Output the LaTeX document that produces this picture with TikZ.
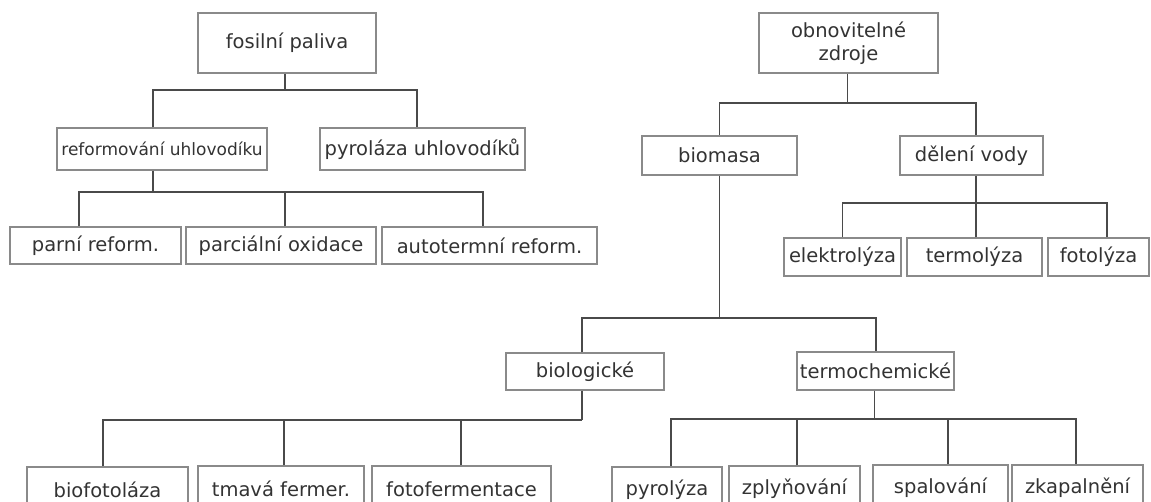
\documentclass[tikz,border=0pt]{standalone}
\usepackage{fontspec}
\setmainfont{DejaVu Sans}
\definecolor{txt}{HTML}{333333}
\definecolor{boxc}{HTML}{8A8A8A}
\definecolor{linec}{HTML}{4A4A4A}
\tikzset{
  nbox/.style={draw=boxc, line width=1.3pt, inner sep=0pt, text=txt,
    font=\fontsize{19.5}{23}\selectfont, align=center},
  lowbox/.style={nbox, minimum height=46},
  conn/.style={draw=linec, line width=1.4pt},
}
\begin{document}
\begin{tikzpicture}[x=1pt,y=-1pt]
\useasboundingbox (0,0) rectangle (1151,502);
\fill[white] (0,0) rectangle (1151,502);
\clip (0,0) rectangle (1151,502);
% ---- left tree
\node[nbox, minimum width=178, minimum height=60] (fos) at (287,43) {fosilní paliva};
\node[nbox, minimum width=210, minimum height=42, font=\fontsize{17}{20}\selectfont] (ref) at (162,149) {reformování uhlovodíku};
\node[nbox, minimum width=205, minimum height=42] (pyr) at (422.5,149) {pyroláza uhlovodíků};
\node[nbox, minimum width=171, minimum height=37] (parni) at (95.5,245.5) {parní reform.};
\node[nbox, minimum width=190, minimum height=37] (parc) at (281,245.5) {parciální oxidace};
\node[nbox, minimum width=215, minimum height=37] (auto) at (489.5,245.5) {autotermní reform.};
% ---- right tree
\node[nbox, minimum width=179, minimum height=60] (obn) at (848.5,43) {obnovitelné\\zdroje};
\node[nbox, minimum width=155, minimum height=39] (bio) at (719.5,155.5) {biomasa};
\node[nbox, minimum width=143, minimum height=39] (del) at (971.5,155.5) {dělení vody};
\node[nbox, minimum width=117, minimum height=38] (elek) at (842.5,257) {elektrolýza};
\node[nbox, minimum width=135, minimum height=38] (term) at (974.5,257) {termolýza};
\node[nbox, minimum width=101, minimum height=38] (foto) at (1098.5,257) {fotolýza};
\node[nbox, minimum width=158, minimum height=37] (biol) at (585,371.5) {biologické};
\node[nbox, minimum width=157, minimum height=38] (tch) at (875.5,371) {termochemické};
\node[lowbox, minimum width=161] (bfot) at (107.5,490) {biofotoláza};
\node[lowbox, minimum width=166] (tmav) at (281,489) {tmavá fermer.};
\node[lowbox, minimum width=179] (ffer) at (461.5,489) {fotofermentace};
\node[lowbox, minimum width=110] (pyrl) at (667,490) {pyrolýza};
\node[lowbox, minimum width=131] (zply) at (794.5,489) {zplyňování};
\node[lowbox, minimum width=135] (spal) at (940.5,488) {spalování};
\node[lowbox, minimum width=131] (zkap) at (1077.5,488) {zkapalnění};
% bus levels
\coordinate (L1) at (0,90);
\coordinate (L2) at (0,192);
\coordinate (R1) at (0,103);
\coordinate (R2) at (0,203);
\coordinate (R3) at (0,318);
\coordinate (R4) at (0,420);
\coordinate (R5) at (0,419);
% ---- left connectors
\draw[conn] ([xshift=-2pt]fos.south) -- ([xshift=-2pt]fos.south |- L1);
\draw[conn] ([xshift=-9pt]ref.north) -- ([xshift=-9pt]ref.north |- L1) -- ([xshift=-5.5pt]pyr.north |- L1) -- ([xshift=-5.5pt]pyr.north);
\draw[conn] ([xshift=-9pt]ref.south) -- ([xshift=-9pt]ref.south |- L2);
\draw[conn] ([xshift=-16.5pt]parni.north) -- ([xshift=-16.5pt]parni.north |- L2) -- ([xshift=-6.5pt]auto.north |- L2) -- ([xshift=-6.5pt]auto.north);
\draw[conn] ([xshift=4pt]parc.north) -- ([xshift=4pt]parc.north |- L2);
% ---- right connectors
\draw[conn] ([xshift=-1pt]obn.south) -- ([xshift=-1pt]obn.south |- R1);
\draw[conn] (bio.north) -- (bio.north |- R1) -- ([xshift=4.5pt]del.north |- R1) -- ([xshift=4.5pt]del.north);
\draw[conn] ([xshift=4.5pt]del.south) -- ([xshift=4.5pt]del.south |- R2);
\draw[conn] (elek.north) -- (elek.north |- R2) -- ([xshift=8.5pt]foto.north |- R2) -- ([xshift=8.5pt]foto.north);
\draw[conn] ([xshift=1.5pt]term.north) -- ([xshift=1.5pt]term.north |- R2);
\draw[conn] (bio.south) -- (bio.south |- R3);
\draw[conn] ([xshift=-3pt]biol.north) -- ([xshift=-3pt]biol.north |- R3) -- ([xshift=0.5pt]tch.north |- R3) -- ([xshift=0.5pt]tch.north);
\draw[conn] ([xshift=-3pt]biol.south) -- ([xshift=-3pt]biol.south |- R4);
\draw[conn] ([xshift=-4.5pt]bfot.north) -- ([xshift=-4.5pt]bfot.north |- R4) -- ([xshift=-3pt]biol.south |- R4);
\draw[conn] ([xshift=3pt]tmav.north) -- ([xshift=3pt]tmav.north |- R4);
\draw[conn] ([xshift=-0.5pt]ffer.north) -- ([xshift=-0.5pt]ffer.north |- R4);
\draw[conn] ([xshift=-1pt]tch.south) -- ([xshift=-1pt]tch.south |- R5);
\draw[conn] ([xshift=4pt]pyrl.north) -- ([xshift=4pt]pyrl.north |- R5) -- ([xshift=-1.5pt]zkap.north |- R5) -- ([xshift=-1.5pt]zkap.north);
\draw[conn] ([xshift=2.5pt]zply.north) -- ([xshift=2.5pt]zply.north |- R5);
\draw[conn] ([xshift=7.5pt]spal.north) -- ([xshift=7.5pt]spal.north |- R5);
\end{tikzpicture}
\end{document}
